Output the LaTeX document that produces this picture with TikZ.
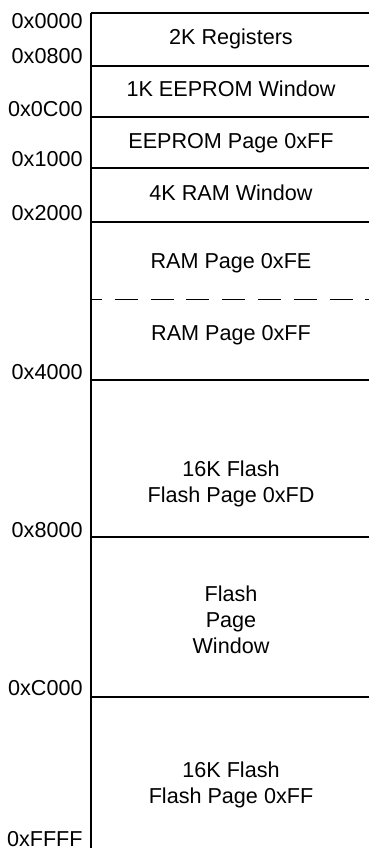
\documentclass[tikz,border=0pt]{standalone}
\usepackage{fontspec}
\setmainfont{Liberation Sans}
\begin{document}
\begin{tikzpicture}[x=0.5pt,y=-0.5pt,
  addr/.style={anchor=base east, inner sep=0pt, font=\fontsize{10.8}{13}\selectfont},
  cell/.style={anchor=base, inner sep=0pt, align=center, font=\fontsize{10.8}{13}\selectfont},
  sep/.style={line width=0.8pt}]
\useasboundingbox (0,0) rectangle (369,848);
\draw[sep] (90.7,12.7) -- (90.7,848);
\foreach \y in {12.7,65.7,116.7,167.7,221.7,380,536.7,696.7}
  \draw[sep] (90.7,\y) -- (369,\y);
\draw[line width=0.7pt, dash pattern=on 11.5pt off 6.4pt, dash phase=5.9pt] (90.7,299.3) -- (369,299.3);
% addresses
\node[addr] (a0000) at (83,28) {0x0000};
\node[addr] (a0800) at (83,63) {0x0800};
\node[addr] (a0C00) at (83,116) {0x0C00};
\node[addr] (a1000) at (83,166) {0x1000};
\node[addr] (a2000) at (83,220) {0x2000};
\node[addr] (a4000) at (83,379) {0x4000};
\node[addr] (a8000) at (83,537) {0x8000};
\node[addr] (aC000) at (83,695) {0xC000};
\node[addr] (aFFFF) at (83,846) {0xFFFF};
% blocks (base = last line)
\node[cell] (reg) at (231,44) {2K Registers};
\node[cell] (eewin) at (231,96.7) {1K EEPROM Window};
\node[cell] (eepage) at (231,148) {EEPROM Page 0xFF};
\node[cell] (ramwin) at (231,200) {4K RAM Window};
\node[cell] (ramfe) at (231,268) {RAM Page 0xFE};
\node[cell] (ramff) at (231,340.7) {RAM Page 0xFF};
\node[cell] (flashfd) at (231,502) {16K Flash\\Flash Page 0xFD};
\node[cell] (flashwin) at (231,653) {Flash\\Page\\Window};
\node[cell] (flashff) at (231,803.3) {16K Flash\\Flash Page 0xFF};
\end{tikzpicture}
\end{document}
